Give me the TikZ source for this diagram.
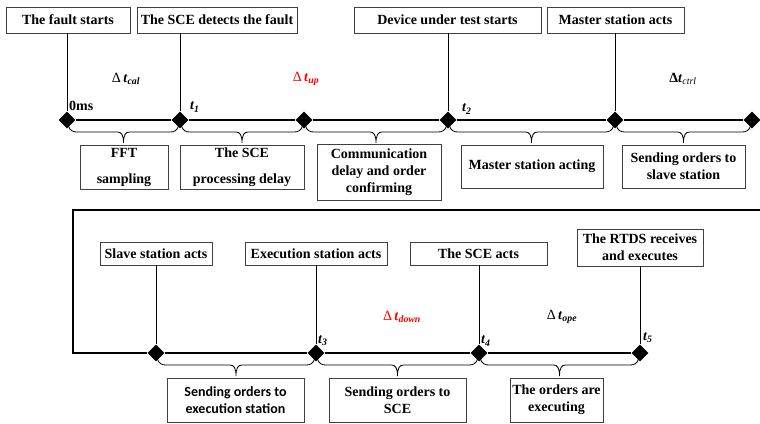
\documentclass[tikz,border=0pt]{standalone}
\usepackage{fontspec}
\setmainfont{Liberation Serif}
\newfontfamily\tnrfont{Liberation Serif}
\newfontfamily\carlfont{Carlito}
\usetikzlibrary{shapes.geometric,calc}
\newcommand\myfs{\fontsize{14}{17}\selectfont}
\newcommand\lblfs{\fontsize{14}{16}\selectfont}
\newcommand\mybrace[2]{%
  \draw[brc] let \p1=(#1.center), \p2=(#2.center), \p3=($(#1.center)!0.5!(#2.center)$) in
    (\x1+1pt,\y1-5pt) .. controls (\x1+3pt,\y1-11pt) and (\x1+6pt,\y1-12pt) .. (\x1+10pt,\y1-12pt)
    -- (\x3-6pt,\y1-12pt) .. controls (\x3-2pt,\y1-12pt) and (\x3,\y1-15pt) .. (\x3,\y1-23pt)
    .. controls (\x3,\y1-15pt) and (\x3+2pt,\y1-12pt) .. (\x3+6pt,\y1-12pt)
    -- (\x2-10pt,\y2-12pt) .. controls (\x2-6pt,\y2-12pt) and (\x2-3pt,\y2-11pt) .. (\x2-1pt,\y2-5pt);}
\begin{document}
\begin{tikzpicture}[x=1pt,y=-1pt,
  box/.style={draw=black!75, line width=0.8pt, inner sep=0pt, align=center, font=\tnrfont\myfs\bfseries},
  dia/.style={diamond, fill=black, inner sep=0pt, minimum size=17pt},
  tline/.style={line width=1.6pt},
  vline/.style={line width=1pt},
  brc/.style={line width=0.8pt},
  tlbl/.style={font=\tnrfont\lblfs\bfseries\itshape, inner sep=0pt, anchor=west},
  dlbl/.style={font=\tnrfont\lblfs, inner sep=0pt}
]
\useasboundingbox (0,0) rectangle (760,423);

% ---------- top row ----------
\node[box, minimum width=124pt, minimum height=26pt] (A) at (68,20) {The fault starts};
\node[box, minimum width=160pt, minimum height=26pt] (B) at (217,20) {The SCE detects the fault};
\node[box, minimum width=187pt, minimum height=26pt] (C) at (447.5,20) {Device under test starts};
\node[box, minimum width=137pt, minimum height=26pt] (D) at (615.5,20) {Master station acts};

\node[dia] (d0) at (67,120) {};
\node[dia] (d1) at (180,120) {};
\node[dia] (d2) at (304,120) {};
\node[dia] (d3) at (448,120) {};
\node[dia] (d4) at (615,120) {};
\node[dia] (d5) at (752,120) {};

\draw[tline] (d0) -- (d1) -- (d2) -- (d3) -- (d4) -- (d5);
\draw[vline] (A.south -| d0) -- (d0);
\draw[vline] (B.south -| d1) -- (d1);
\draw[vline] (C.south -| d3) -- (d3);
\draw[vline] (D.south -| d4) -- (d4);

\node[box, minimum width=88pt, minimum height=44pt] (E) at (124,167) {FFT\\[9pt]sampling};
\node[box, minimum width=124pt, minimum height=44pt] (F) at (242,167) {The SCE\\[9pt]processing delay};
\node[box, minimum width=124pt, minimum height=56pt] (G) at (379,172) {Communication\\delay and order\\confirming};
\node[box, minimum width=142pt, minimum height=43pt] (H) at (532,166.5) {Master station acting};
\node[box, minimum width=123pt, minimum height=43pt] (I) at (683.5,166.5) {Sending orders to\\slave station};

\mybrace{d0}{d1}
\mybrace{d1}{d2}
\mybrace{d2}{d3}
\mybrace{d3}{d4}
\mybrace{d4}{d5}

\node[font=\tnrfont\lblfs\bfseries, inner sep=0pt, anchor=west] (l0) at (69,106) {0ms};
\node[tlbl] (l1) at (190,107) {t\textsubscript{1}};
\node[tlbl] (l2) at (462,109) {t\textsubscript{2}};

\node[dlbl] (dcal) at (126,79) {Δ\,\textbf{\textit{t}}\textsubscript{\textbf{\textit{cal}}}};
\node[dlbl, text=red] (dup) at (306,79) {Δ\,\textbf{\textit{t}}\textsubscript{\textbf{\textit{up}}}};
\node[dlbl] (dctrl) at (683,79) {\textbf{Δ\textit{t}}\textsubscript{\textit{ctrl}}};

% ---------- bottom row ----------
\coordinate (fr) at (760,210);
\coordinate (fl) at (73,210);
\coordinate (bl) at (73,353);

\node[box, minimum width=112pt, minimum height=23pt] (J) at (156,253.5) {Slave station acts};
\node[box, minimum width=142pt, minimum height=23pt] (K) at (316,253.5) {Execution station acts};
\node[box, minimum width=137pt, minimum height=23pt] (L) at (478.5,253.5) {The SCE acts};
\node[box, minimum width=126pt, minimum height=37pt] (M) at (640,247.5) {The RTDS receives\\and executes};

\node[dia] (b1) at (156,353) {};
\node[dia] (b2) at (316,353) {};
\node[dia] (b3) at (479,353) {};
\node[dia] (b4) at (640,353) {};

\draw[tline] (fr) -- (fl) -- (bl) -- (b1) -- (b2) -- (b3) -- (b4);
\draw[vline] (J.south -| b1) -- (b1);
\draw[vline] (K.south -| b2) -- (b2);
\draw[vline] (L.south -| b3) -- (b3);
\draw[vline] (M.south -| b4) -- (b4);

\mybrace{b1}{b2}
\mybrace{b2}{b3}
\mybrace{b3}{b4}

\node[box, minimum width=137pt, minimum height=44pt, font=\carlfont\myfs\bfseries] (N) at (235.5,400) {Sending orders to\\execution station};
\node[box, minimum width=137pt, minimum height=44pt] (O) at (397.5,400) {Sending orders to\\SCE};
\node[box, minimum width=93pt, minimum height=44pt] (P) at (556.5,400) {The orders are\\executing};

\node[tlbl] (l3) at (318,341) {t\textsubscript{3}};
\node[tlbl] (l4) at (481,341) {t\textsubscript{4}};
\node[tlbl] (l5) at (643,338) {t\textsubscript{5}};

\node[dlbl, text=red] (ddown) at (402,317) {Δ\,\textbf{\textit{t}}\textsubscript{\textbf{\textit{down}}}};
\node[dlbl] (dope) at (562,317) {Δ\,\textbf{\textit{t}}\textsubscript{\textbf{\textit{ope}}}};
\end{tikzpicture}
\end{document}
